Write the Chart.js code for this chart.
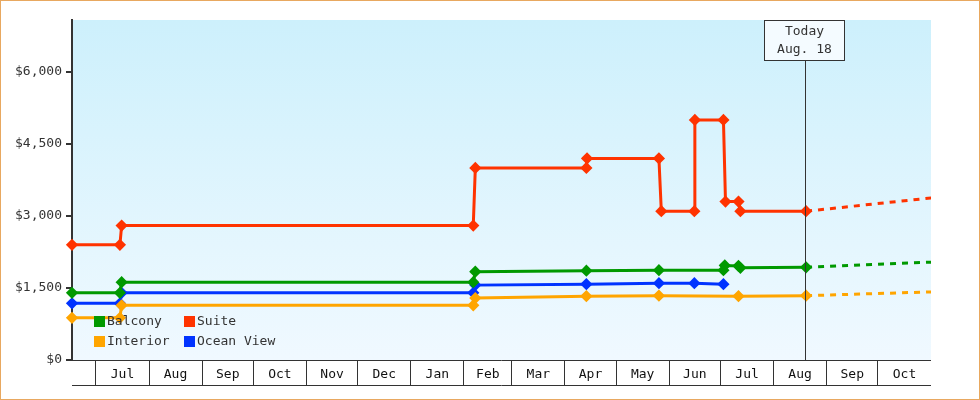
<!DOCTYPE html>
<html><head><script src="https://cdn.jsdelivr.net/npm/chart.js@4"></script>
<style>body{margin:0}#w{width:978px;height:398px;border:1px solid #e8a860}</style></head>
<body><div id="w"><canvas id="c"></canvas></div>
<script>
// x = days since 2022-06-17
const suiteX=[0,28,29,234.5,235.7,300.6,301,343,344.4,363.7,364,380.7,381.9,389.5,390.6,429];
const suiteY=[2400,2400,2800,2800,4000,4000,4200,4200,3100,3100,5000,5000,3300,3300,3100,3100];
const balcX=[0,28,29,234.5,235.7,300.6,343,380.7,381.5,389.5,390.6,429];
const balcY=[1400,1400,1620,1620,1840,1860,1870,1870,1970,1960,1920,1930];
const oceanX=[0,28,29,234.5,235.7,300.6,343,363.7,380.7];
const oceanY=[1180,1180,1400,1400,1560,1580,1600,1600,1580];
const intX=[0,28,29,234.5,235.7,300.6,343,389.5,429];
const intY=[880,880,1140,1140,1290,1330,1340,1330,1340];
const projX=[429,503];
const suiteProj=[3100,3380];const balcProj=[1930,2040];const intProj=[1340,1420];
const monthLabels=['Jul','Aug','Sep','Oct','Nov','Dec','Jan','Feb','Mar','Apr','May','Jun','Jul','Aug','Sep','Oct'];
const monthStarts=[14,45,76,106,137,167,198,229,257,288,318,349,379,410,441,471,502];
const todayX=429, todayLabel=['Today','Aug. 18'];
const yTicks=[0,1500,3000,4500,6000];
const F='"DejaVu Sans Mono", monospace';
const pts=(xs,ys)=>xs.map((x,i)=>({x,y:ys[i]}));
const line=(label,xs,ys,c)=>({label,data:pts(xs,ys),borderColor:c,backgroundColor:c,borderWidth:3,pointStyle:'rectRot',pointRadius:4,pointHoverRadius:4,tension:0,clip:false});
const proj=(xs,ys,c)=>({label:'',data:pts(xs,ys),borderColor:c,borderWidth:3,borderDash:[6,6],pointRadius:0,tension:0});
const ticksX=[];monthStarts.forEach((m,i)=>{if(i<monthStarts.length-1){ticksX.push({value:m,b:1});ticksX.push({value:(m+monthStarts[i+1])/2,b:0,l:monthLabels[i]});}});
const deco={id:'deco',
beforeDraw(ch){const {ctx,chartArea:a}=ch;const g=ctx.createLinearGradient(0,a.top,0,a.bottom);g.addColorStop(0,'#cdf0fc');g.addColorStop(1,'#f0f9ff');ctx.fillStyle=g;ctx.fillRect(a.left,a.top,a.right-a.left,a.bottom-a.top);},
afterDatasetsDraw(ch){const {ctx,chartArea:a,scales:{x}}=ch;ctx.save();
ctx.strokeStyle='#333';ctx.lineWidth=1;
ctx.beginPath();ctx.moveTo(a.left,a.bottom+25.5);ctx.lineTo(a.right,a.bottom+25.5);ctx.stroke();
ctx.beginPath();ctx.moveTo(a.left,a.bottom+0.5);ctx.lineTo(a.right,a.bottom+0.5);ctx.stroke();
const tx=Math.round(x.getPixelForValue(todayX))-0.5;
ctx.beginPath();ctx.moveTo(tx,60);ctx.lineTo(tx,a.bottom);ctx.stroke();
ctx.fillStyle='#f4fbff';ctx.fillRect(tx-41,a.top,80,40);ctx.strokeRect(tx-41,a.top+0.5,80,40);
ctx.fillStyle='#333';ctx.font='13px '+F;ctx.textAlign='center';ctx.textBaseline='middle';
ctx.fillText(todayLabel[0],tx-1,a.top+12);ctx.fillText(todayLabel[1],tx-1,a.top+30);
const leg=[['Balcony','#009900',93,320],['Suite','#ff3300',183,320],['Interior','#ffa500',93,340],['Ocean View','#0033ff',183,340]];
ctx.textAlign='left';ctx.font='13px '+F;
leg.forEach(([t,c,lx,ly])=>{ctx.fillStyle=c;ctx.fillRect(lx,ly-5,11,11);ctx.fillStyle='#333';ctx.fillText(t,lx+13,ly+1);});
ctx.restore();}};
new Chart(document.getElementById('c'),{type:'line',
data:{datasets:[line('Balcony',balcX,balcY,'#009900'),line('Suite',suiteX,suiteY,'#ff3300'),line('Interior',intX,intY,'#ffa500'),line('Ocean View',oceanX,oceanY,'#0033ff'),
proj(projX,suiteProj,'#ff3300'),proj(projX,balcProj,'#009900'),proj(projX,intProj,'#ffa500')]},
options:{responsive:true,maintainAspectRatio:false,animation:false,
layout:{padding:{left:0,right:48,top:19,bottom:10}},
plugins:{legend:{display:false},tooltip:{enabled:false}},
scales:{
x:{type:'linear',min:0,max:502,afterFit(s){s.height=29;},
afterBuildTicks(s){s.ticks=ticksX.map(t=>({value:t.value,b:t.b,l:t.l}));},
border:{display:false},
grid:{drawOnChartArea:false,tickLength:25,color:c=>(c.tick&&c.tick.b)?'#333':'rgba(0,0,0,0)'},
ticks:{autoSkip:false,maxRotation:0,padding:-18,color:'#111',font:{family:F,size:13},callback:(v,i)=>ticksX[i].b?'':ticksX[i].l}},
y:{min:0,max:7083,afterFit(s){s.width=71;},afterBuildTicks(s){s.ticks=yTicks.map(v=>({value:v}));},
border:{display:true,color:'#333',width:2},
grid:{drawOnChartArea:false,tickLength:6,color:'#333',lineWidth:2},
ticks:{color:'#333',padding:4,font:{family:F,size:13},callback:v=>'$'+v.toLocaleString('en-US')}}}},
plugins:[deco]});
</script></body></html>
